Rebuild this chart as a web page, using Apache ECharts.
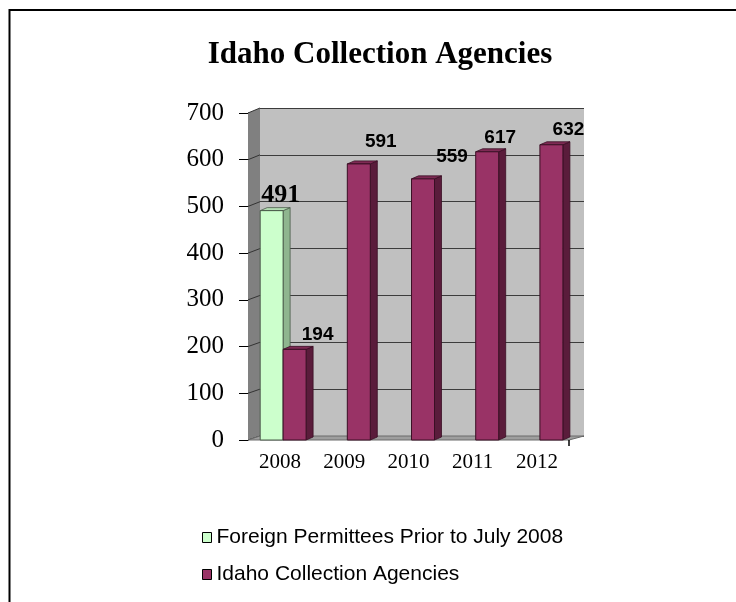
<!DOCTYPE html>
<html><head><meta charset="utf-8">
<script src="https://cdn.jsdelivr.net/npm/echarts@6/dist/echarts.min.js"></script>
<style>html,body{margin:0;padding:0;background:#fff}#c{width:736px;height:602px}</style>
</head><body><div id="c"></div>
<script>
// ---- data ----
const titleText = 'Idaho Collection Agencies';
const categories = ['2008', '2009', '2010', '2011', '2012'];
const foreignPermittees = [491, null, null, null, null];
const idahoAgencies = [194, 591, 559, 617, 632];
const seriesNames = ['Foreign Permittees Prior to July 2008', 'Idaho Collection Agencies'];
const yMin = 0, yMax = 700, yStep = 100;

// ---- layout ----
const G0 = {left: 248, right: 167, top: 113, bottom: 162};   // front plane (axes, bars)
const G1 = {left: 260, right: 152, top: 108, bottom: 166};   // back wall
const DEPTH = {dx: 7, dy: -3};

const chart = echarts.init(document.getElementById('c'), null, {renderer: 'canvas'});

function barRenderer(frac, colors, nudges, labelFont) {
  return function (params, api) {
    const v = api.value(1);
    if (v == null || isNaN(v)) return null;
    const c = api.coord([api.value(0), v]);
    const b = api.coord([api.value(0), 0]);
    const bw = api.size([1, 0])[0];
    const x0 = c[0] + bw * frac[0], x1 = c[0] + bw * frac[1];
    const yT = c[1], yB = b[1];
    const dx = DEPTH.dx, dy = DEPTH.dy;
    const n = nudges[params.dataIndex] || [18, -18];
    const xc = (x0 + x1) / 2;
    return {
      type: 'group',
      children: [
        {type: 'polygon', shape: {points: [[x1, yT], [x1 + dx, yT + dy], [x1 + dx, yB + dy], [x1, yB]]},
         style: {fill: colors.side, stroke: colors.stroke, lineWidth: 0.8}},
        {type: 'polygon', shape: {points: [[x0, yT], [x0 + dx, yT + dy], [x1 + dx, yT + dy], [x1, yT]]},
         style: {fill: colors.top, stroke: colors.stroke, lineWidth: 0.8}},
        {type: 'rect', shape: {x: x0, y: yT, width: x1 - x0, height: yB - yT},
         style: {fill: colors.front, stroke: colors.stroke, lineWidth: 1}},
        {type: 'text', x: xc + n[0], y: yT + n[1],
         style: {text: String(v), font: labelFont, fill: '#000', align: 'center', verticalAlign: 'middle'}}
      ]
    };
  };
}

const greenColors = {front: '#CCFFCC', side: '#8FB58F', top: '#B3DDB3', stroke: '#4a5a4a'};
const purpleColors = {front: '#993366', side: '#5A1C3B', top: '#7E2A54', stroke: '#3a0f24'};

const option = {
  animation: false,
  backgroundColor: '#ffffff',
  grid: [
    Object.assign({show: false}, G0),
    Object.assign({show: true, backgroundColor: '#C0C0C0', borderWidth: 0}, G1)
  ],
  xAxis: [
    {type: 'category', gridIndex: 0, data: categories,
     axisLine: {show: false}, axisTick: {show: false},
     axisLabel: {fontFamily: 'Liberation Serif', fontSize: 21, color: '#000', margin: 12}},
    {type: 'category', gridIndex: 1, data: categories, show: false}
  ],
  yAxis: [
    {type: 'value', gridIndex: 0, min: yMin, max: yMax, interval: yStep,
     axisLine: {show: true, lineStyle: {color: '#000', width: 1}},
     axisTick: {show: true, length: 9, lineStyle: {color: '#000'}},
     splitLine: {show: false},
     axisLabel: {fontFamily: 'Liberation Serif', fontSize: 25, color: '#000', margin: 24}},
    {type: 'value', gridIndex: 1, min: yMin, max: yMax, interval: yStep,
     axisLine: {show: false}, axisTick: {show: false}, axisLabel: {show: false},
     splitLine: {show: true, lineStyle: {color: '#3c3c3c', width: 1}}}
  ],
  legend: {
    orient: 'vertical', left: 197, top: 522, itemGap: 16,
    itemWidth: 9, itemHeight: 10, icon: 'rect',
    textStyle: {fontFamily: 'Liberation Sans', fontSize: 21, color: '#000'},
    data: [
      {name: seriesNames[0], itemStyle: {color: greenColors.front, borderColor: '#000', borderWidth: 1}},
      {name: seriesNames[1], itemStyle: {color: purpleColors.front, borderColor: '#000', borderWidth: 1}}
    ]
  },
  series: [
    {type: 'custom', name: seriesNames[0], xAxisIndex: 0, yAxisIndex: 0, z: 3,
     itemStyle: {color: greenColors.front},
     encode: {x: 0, y: 1},
     renderItem: barRenderer([-0.31, 0.047], greenColors, [[9, -15]], 'bold 26px "Liberation Serif"'),
     data: foreignPermittees.map((v, i) => [i, v == null ? NaN : v])},
    {type: 'custom', name: seriesNames[1], xAxisIndex: 0, yAxisIndex: 0, z: 3,
     itemStyle: {color: purpleColors.front},
     encode: {x: 0, y: 1},
     renderItem: barRenderer([0.047, 0.405], purpleColors,
       [[23, -15], [22, -22], [29, -22], [13, -14], [17, -15]], 'bold 19px "Liberation Sans"'),
     data: idahoAgencies.map((v, i) => [i, v])}
  ]
};
chart.setOption(option);

// ---- 3D walls / floor / frame, placed from the axes ----
const W = 736, H = 602;
const fx0 = G0.left, fx1 = W - G0.right, bx0 = G1.left, bx1 = W - G1.right;
const yF = v => chart.convertToPixel({yAxisIndex: 0}, v);
const yBk = v => chart.convertToPixel({yAxisIndex: 1}, v);
const els = [];
els.push({type: 'polygon', z: 1, shape: {points: [[fx0, yF(yMax)], [bx0, yBk(yMax)], [bx0, yBk(yMin)], [fx0, yF(yMin)]]},
  style: {fill: '#808080'}});
for (let v = yMin; v <= yMax; v += yStep) {
  els.push({type: 'line', z: 1, shape: {x1: fx0, y1: yF(v), x2: bx0, y2: yBk(v)}, style: {stroke: '#333', lineWidth: 1}});
}
els.push({type: 'polygon', z: 1, shape: {points: [[fx0, yF(yMin)], [bx0, yBk(yMin)], [bx1, yBk(yMin)], [fx1, yF(yMin)]]},
  style: {fill: '#9E9E9E', stroke: '#6a6a6a', lineWidth: 1}});
els.push({type: 'line', z: 1, shape: {x1: fx1, y1: yF(yMin), x2: fx1, y2: yF(yMin) + 6}, style: {stroke: '#000', lineWidth: 1.5}});
els.push({type: 'polyline', z: 5, shape: {points: [[9.5, H], [9.5, 10], [W, 10]]}, style: {stroke: '#000', lineWidth: 2, fill: null}});
els.push({type: 'text', z: 5, x: 380, y: 54.5,
  style: {text: titleText, font: 'bold 31px "Liberation Serif"', fill: '#000', align: 'center', verticalAlign: 'middle'}});
chart.setOption({graphic: {elements: els}});
</script>
</body></html>
